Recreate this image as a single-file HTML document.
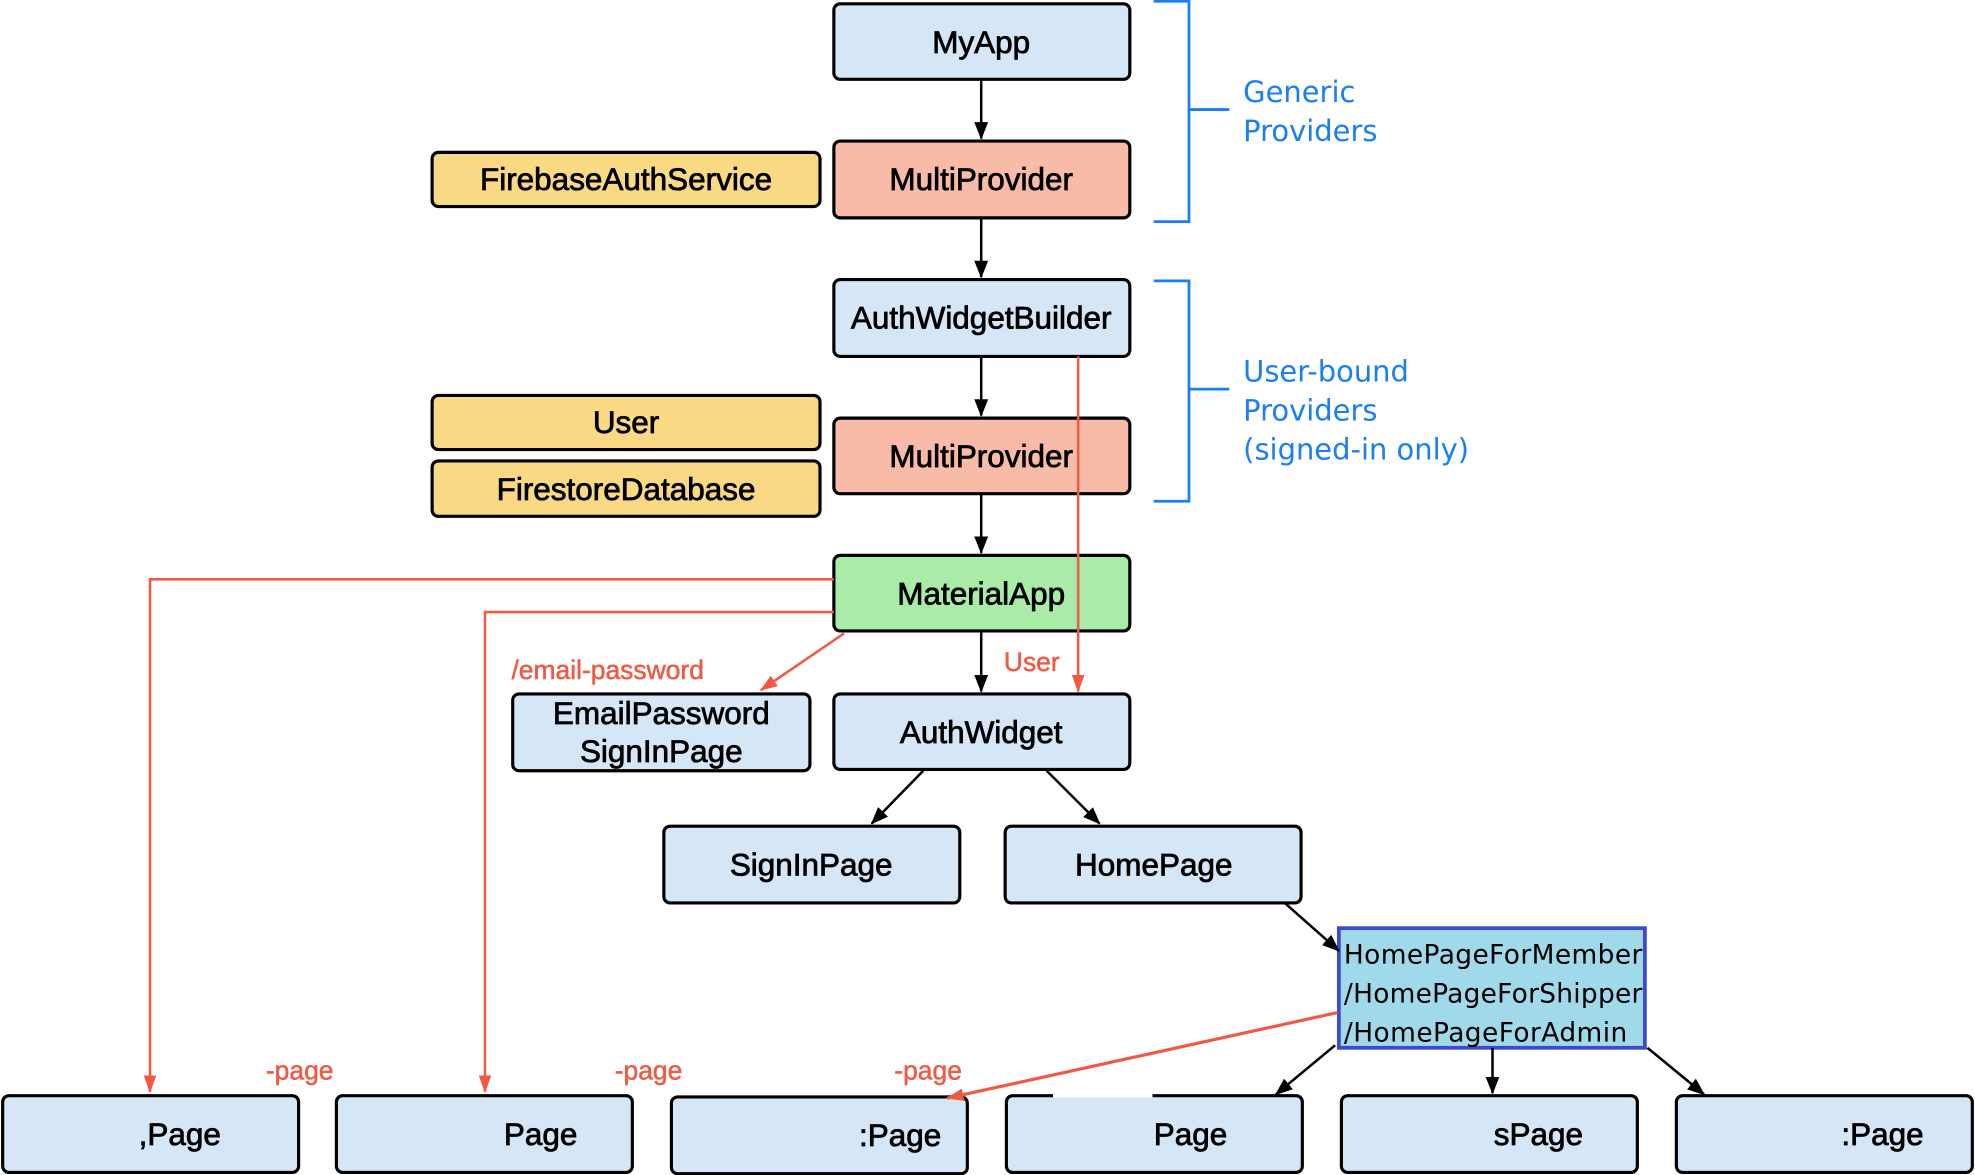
<!DOCTYPE html>
<html><head><meta charset="utf-8"><style>html,body{margin:0;padding:0;background:#fff}svg{display:block}</style></head>
<body>
<svg width="1975" height="1175" viewBox="0 0 1568 933" xmlns="http://www.w3.org/2000/svg" font-family="Liberation Sans, sans-serif">
<defs>
<marker id="ar" markerWidth="14" markerHeight="14" refX="13" refY="7" orient="auto" markerUnits="userSpaceOnUse"><path d="M0,2 L14,7 L0,12 z" fill="#f05a44"/></marker>
<marker id="bk" markerWidth="14" markerHeight="14" refX="13" refY="7" orient="auto" markerUnits="userSpaceOnUse"><path d="M0,1.5 L14,7 L0,12.5 z" fill="#000"/></marker>
</defs>
<g stroke="#000" stroke-width="2.5">
<rect x="662" y="3" width="235" height="60" rx="5" fill="#d5e6f6"/>
<rect x="662" y="112" width="235" height="61" rx="5" fill="#f7bba8"/>
<rect x="343" y="121" width="308" height="43" rx="5" fill="#f9d984"/>
<rect x="662" y="222" width="235" height="61" rx="5" fill="#d5e6f6"/>
<rect x="662" y="332" width="235" height="60" rx="5" fill="#f7bba8"/>
<rect x="343" y="314" width="308" height="43" rx="5" fill="#f9d984"/>
<rect x="343" y="366" width="308" height="44" rx="5" fill="#f9d984"/>
<rect x="662" y="441" width="235" height="60" rx="5" fill="#a8eca8"/>
<rect x="407" y="551" width="236" height="61" rx="5" fill="#d5e6f6"/>
<rect x="662" y="551" width="235" height="60" rx="5" fill="#d5e6f6"/>
<rect x="527" y="656" width="235" height="61" rx="5" fill="#d5e6f6"/>
<rect x="798" y="656" width="235" height="61" rx="5" fill="#d5e6f6"/>
<rect x="2" y="870" width="235" height="61" rx="5" fill="#d5e6f6"/>
<rect x="267" y="870" width="235" height="61" rx="5" fill="#d5e6f6"/>
<rect x="533" y="871" width="235" height="61" rx="5" fill="#d5e6f6"/>
<rect x="799" y="870" width="235" height="61" rx="5" fill="#d5e6f6"/>
<rect x="1065" y="870" width="235" height="61" rx="5" fill="#d5e6f6"/>
<rect x="1331" y="870" width="235" height="61" rx="5" fill="#d5e6f6"/>
</g>
<line x1="836" y1="870" x2="915" y2="870" stroke="#fff" stroke-width="3"/>
<rect x="1063" y="737" width="243" height="95" fill="#9fd9ea" stroke="#3d4bcb" stroke-width="3"/>
<g stroke="#000" stroke-width="2" fill="none">
<line x1="779" y1="63" x2="779" y2="110" marker-end="url(#bk)"/>
<line x1="779" y1="173" x2="779" y2="220" marker-end="url(#bk)"/>
<line x1="779" y1="283" x2="779" y2="330" marker-end="url(#bk)"/>
<line x1="779" y1="392" x2="779" y2="439" marker-end="url(#bk)"/>
<line x1="779" y1="501" x2="779" y2="549" marker-end="url(#bk)"/>
<line x1="733" y1="612" x2="692" y2="654" marker-end="url(#bk)"/>
<line x1="831" y1="612" x2="873" y2="654" marker-end="url(#bk)"/>
<line x1="1020" y1="717" x2="1063" y2="755" marker-end="url(#bk)"/>
<line x1="1060" y1="830" x2="1013" y2="869" marker-end="url(#bk)"/>
<line x1="1185" y1="832" x2="1185" y2="868" marker-end="url(#bk)"/>
<line x1="1308" y1="832" x2="1353" y2="869" marker-end="url(#bk)"/>
</g>
<g stroke="#f05a44" stroke-width="2" fill="none">
<polyline points="662,460 119,460 119,867" marker-end="url(#ar)"/>
<polyline points="662,486 385,486 385,867" marker-end="url(#ar)"/>
<line x1="670" y1="503" x2="604" y2="548" marker-end="url(#ar)"/>
<line x1="856" y1="283" x2="856" y2="549" marker-end="url(#ar)"/>
<line x1="1062" y1="804" x2="752" y2="872" marker-end="url(#ar)" stroke-width="2.5"/>
</g>
<g stroke="#1a7ef5" stroke-width="2.2" fill="none">
<polyline points="916,1 944,1 944,176 916,176"/>
<line x1="944" y1="87" x2="976" y2="87"/>
<polyline points="916,223 944,223 944,398 916,398"/>
<line x1="944" y1="309" x2="976" y2="309"/>
</g>
<g font-size="23" fill="#1a7ef5" font-family="DejaVu Sans, sans-serif">
<text x="987" y="81">Generic</text><text x="987" y="112">Providers</text>
<text x="987" y="303">User-bound</text><text x="987" y="334">Providers</text><text x="987" y="365">(signed-in only)</text>
</g>
<g font-size="25" fill="#000" text-anchor="middle" stroke="#000" stroke-width="0.6">
<text x="779" y="42">MyApp</text>
<text x="779" y="151">MultiProvider</text>
<text x="497" y="151">FirebaseAuthService</text>
<text x="779" y="261">AuthWidgetBuilder</text>
<text x="779" y="371">MultiProvider</text>
<text x="497" y="344">User</text>
<text x="497" y="397">FirestoreDatabase</text>
<text x="779" y="480">MaterialApp</text>
<text x="525" y="575">EmailPassword</text>
<text x="525" y="605">SignInPage</text>
<text x="779" y="590">AuthWidget</text>
<text x="644" y="695">SignInPage</text>
<text x="916" y="695">HomePage</text>
</g>
<g font-size="25" fill="#000" stroke="#000" stroke-width="0.6">
<text x="110" y="909">,Page</text>
<text x="400" y="909">Page</text>
<text x="682" y="910">:Page</text>
<text x="916" y="909">Page</text>
<text x="1186" y="909">sPage</text>
<text x="1462" y="909">:Page</text>
</g>
<g font-size="21" fill="#000" font-family="DejaVu Sans, sans-serif">
<text x="1067" y="765" textLength="237">HomePageForMember</text>
<text x="1067" y="796" textLength="237">/HomePageForShipper</text>
<text x="1067" y="827" textLength="225">/HomePageForAdmin</text>
</g>
<g font-size="21" fill="#f05a44" stroke="#f05a44" stroke-width="0.4">
<text x="406" y="539">/email-password</text>
<text x="797" y="533">User</text>
<text x="211" y="857">-page</text>
<text x="488" y="857">-page</text>
<text x="710" y="857">-page</text>
</g>
</svg>
</body></html>
